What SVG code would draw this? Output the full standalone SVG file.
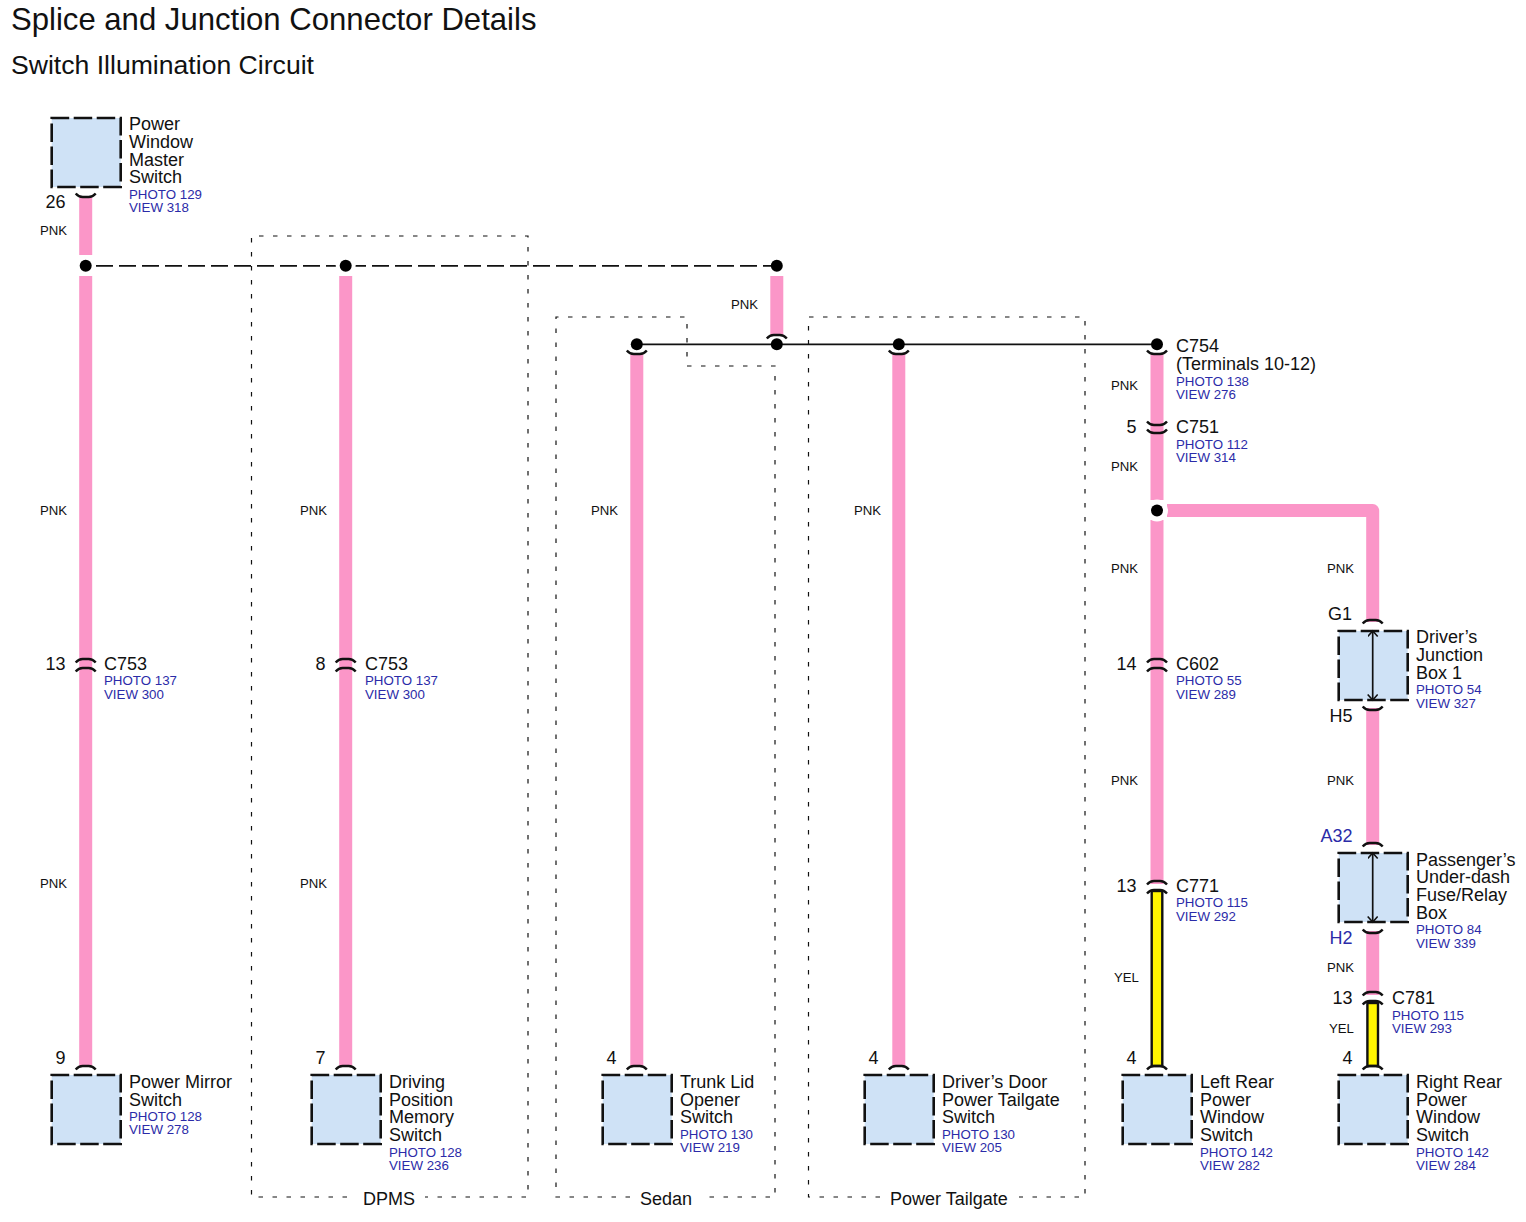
<svg xmlns="http://www.w3.org/2000/svg" width="1526" height="1222" viewBox="0 0 1526 1222">
<style>
text{font-family:"Liberation Sans",Arial,sans-serif;fill:#111}
.t1{font-size:31.1px}.t2{font-size:26.6px}
.n{font-size:18px}.p{font-size:13.3px;fill:#2b2ba8}.c{font-size:13.2px}.pin{font-size:18px;text-anchor:end}.bl{fill:#2b2ba8}
.box{fill:#cfe2f6;stroke:#111;stroke-width:2.6;stroke-dasharray:18.5 4.5;stroke-dashoffset:1}
.pk{stroke:#fb96c8;stroke-width:13;fill:none;stroke-linejoin:round}
.yl{fill:#fff500;stroke:#111;stroke-width:2.4}
.cap{fill:none;stroke:#111;stroke-width:2.4}
.fr{fill:none;stroke:#111;stroke-width:1.2;stroke-dasharray:4.5 9.5}
.dash{fill:none;stroke:#111;stroke-width:1.8;stroke-dasharray:17 6}
.ln{fill:none;stroke:#111;stroke-width:1.7}
.halo{fill:#fff}
</style>
<defs>
<path id="up" class="cap" d="M-10,3.500 Q-7,0 -3,0 H3 Q7,0 10,3.500"/>
<path id="dn" class="cap" d="M-10,-3.500 Q-7,0 -3,0 H3 Q7,0 10,-3.500"/>
<marker id="ah" markerWidth="12" markerHeight="12" refX="10" refY="5" orient="auto-start-reverse" markerUnits="userSpaceOnUse"><path d="M4.500,0 L10,5 L4.500,10" fill="none" stroke="#111" stroke-width="1.6"/></marker>
</defs>
<g id="titles">
<text class="t1" x="11" y="30">Splice and Junction Connector Details</text>
<text class="t2" x="11" y="74">Switch Illumination Circuit</text>
</g>
<g id="frames">
<path class="fr" d="M347,1197 H251.500 V236 H528 V1197 H425"/>
<path class="fr" d="M630,1197 H556 V317 H687 V366 H775 V1197 H702"/>
<path class="fr" d="M880,1197 H808.500 V317 H1085 V1197 H1019"/>
<text class="n" x="363" y="1205">DPMS</text>
<text class="n" x="640" y="1205">Sedan</text>
<text class="n" x="890" y="1205">Power Tailgate</text>
</g>
<g id="connectors">
<path class="pk" d="M85.700,197 V255 M85.700,276 V1066"/>
<path class="pk" d="M345.700,276 V1066"/>
<path class="pk" d="M776.800,276 V336"/>
<path class="pk" d="M636.800,354 V1066"/>
<path class="pk" d="M898.800,354 V1066"/>
<path class="pk" d="M1157,354 V500 M1157,520 V884"/>
<path class="pk" d="M1167,510.500 H1372.700 V622"/>
<path class="pk" d="M1372.700,708 V845 M1372.700,931 V995"/>
<rect class="yl" x="1151.700" y="891" width="10.600" height="175"/>
<rect class="yl" x="1367.400" y="1003" width="10.600" height="63"/>
<path class="dash" d="M96,265.800 H771"/>
<path class="ln" d="M636.800,344.300 H1157"/>
<use href="#dn" x="85.700" y="197"/>
<use href="#up" x="85.700" y="659"/><use href="#up" x="85.700" y="668"/>
<use href="#up" x="85.700" y="1066"/>
<use href="#up" x="345.700" y="659"/><use href="#up" x="345.700" y="668"/>
<use href="#up" x="345.700" y="1066"/>
<use href="#up" x="776.800" y="335"/>
<use href="#dn" x="636.800" y="354"/><use href="#up" x="636.800" y="1066"/>
<use href="#dn" x="898.800" y="354"/><use href="#up" x="898.800" y="1066"/>
<use href="#dn" x="1157" y="354"/>
<use href="#dn" x="1157" y="425"/><use href="#dn" x="1157" y="433"/>
<use href="#up" x="1157" y="659"/><use href="#up" x="1157" y="668"/>
<use href="#up" x="1157" y="881"/><use href="#up" x="1157" y="890"/>
<use href="#up" x="1157" y="1066"/>
<use href="#up" x="1372.700" y="620"/><use href="#dn" x="1372.700" y="710"/>
<use href="#up" x="1372.700" y="843"/><use href="#dn" x="1372.700" y="933"/>
<use href="#up" x="1372.700" y="992"/><use href="#up" x="1372.700" y="1001"/>
<use href="#up" x="1372.700" y="1066"/>
<circle class="halo" cx="85.700" cy="265.800" r="10"/><circle cx="85.700" cy="265.800" r="6"/>
<circle class="halo" cx="345.700" cy="265.800" r="10"/><circle cx="345.700" cy="265.800" r="6"/>
<circle cx="776.800" cy="265.800" r="6"/>
<circle cx="636.800" cy="344.300" r="6"/><circle cx="776.800" cy="344.300" r="6"/><circle cx="898.800" cy="344.300" r="6"/><circle cx="1157" cy="344.300" r="6"/>
<circle class="halo" cx="1157" cy="510.500" r="11"/><circle cx="1157" cy="510.500" r="6"/>
<g id="wire-colours">
<text class="c" x="40" y="235">PNK</text><text class="c" x="40" y="515">PNK</text><text class="c" x="40" y="888">PNK</text>
<text class="c" x="300" y="515">PNK</text><text class="c" x="300" y="888">PNK</text>
<text class="c" x="731" y="309">PNK</text>
<text class="c" x="591" y="515">PNK</text>
<text class="c" x="854" y="515">PNK</text>
<text class="c" x="1111" y="390">PNK</text><text class="c" x="1111" y="471">PNK</text><text class="c" x="1111" y="573">PNK</text><text class="c" x="1111" y="785">PNK</text>
<text class="c" x="1114" y="982">YEL</text>
<text class="c" x="1327" y="573">PNK</text><text class="c" x="1327" y="785">PNK</text><text class="c" x="1327" y="972">PNK</text>
<text class="c" x="1329" y="1033">YEL</text>
</g>
<g id="pins">
<text class="pin" x="65.500" y="208">26</text><text class="pin" x="65.500" y="670">13</text><text class="pin" x="65.500" y="1064">9</text>
<text class="pin" x="325.500" y="670">8</text><text class="pin" x="325.500" y="1064">7</text>
<text class="pin" x="616.500" y="1064">4</text><text class="pin" x="878.500" y="1064">4</text>
<text class="pin" x="1136.500" y="433">5</text><text class="pin" x="1136.500" y="670">14</text><text class="pin" x="1136.500" y="892">13</text><text class="pin" x="1136.500" y="1064">4</text>
<text class="pin" x="1352.500" y="1004">13</text><text class="pin" x="1352.500" y="1064">4</text>
<text class="pin" x="1352" y="620">G1</text><text class="pin" x="1352.500" y="722">H5</text>
<text class="pin" x="1352.500" y="842" style="fill:#2b2ba8">A32</text><text class="pin" x="1352.500" y="944" style="fill:#2b2ba8">H2</text>
</g>
<g id="inline-connector-labels">
<text class="n" x="104" y="670">C753</text><text class="p" x="104" y="685">PHOTO 137</text><text class="p" x="104" y="699">VIEW 300</text>
<text class="n" x="365" y="670">C753</text><text class="p" x="365" y="685">PHOTO 137</text><text class="p" x="365" y="699">VIEW 300</text>
<text class="n" x="1176" y="352">C754</text><text class="n" x="1176" y="370">(Terminals 10-12)</text><text class="p" x="1176" y="386">PHOTO 138</text><text class="p" x="1176" y="399">VIEW 276</text>
<text class="n" x="1176" y="433">C751</text><text class="p" x="1176" y="449">PHOTO 112</text><text class="p" x="1176" y="462">VIEW 314</text>
<text class="n" x="1176" y="670">C602</text><text class="p" x="1176" y="685">PHOTO 55</text><text class="p" x="1176" y="699">VIEW 289</text>
<text class="n" x="1176" y="892">C771</text><text class="p" x="1176" y="907">PHOTO 115</text><text class="p" x="1176" y="921">VIEW 292</text>
<text class="n" x="1392" y="1004">C781</text><text class="p" x="1392" y="1020">PHOTO 115</text><text class="p" x="1392" y="1033">VIEW 293</text>
</g>
</g>
<g id="power-window-master-switch"><rect class="box" x="51.700" y="118" width="69" height="69"/>
<text class="n" x="129" y="130">Power</text><text class="n" x="129" y="148">Window</text><text class="n" x="129" y="166">Master</text><text class="n" x="129" y="183">Switch</text><text class="p" x="129" y="199">PHOTO 129</text><text class="p" x="129" y="212">VIEW 318</text></g>
<g id="power-mirror-switch"><rect class="box" x="51.700" y="1075" width="69" height="69"/>
<text class="n" x="129" y="1088">Power Mirror</text><text class="n" x="129" y="1106">Switch</text><text class="p" x="129" y="1121">PHOTO 128</text><text class="p" x="129" y="1134">VIEW 278</text></g>
<g id="driving-position-memory-switch"><rect class="box" x="311.700" y="1075" width="69" height="69"/>
<text class="n" x="389" y="1088">Driving</text><text class="n" x="389" y="1106">Position</text><text class="n" x="389" y="1123">Memory</text><text class="n" x="389" y="1141">Switch</text><text class="p" x="389" y="1157">PHOTO 128</text><text class="p" x="389" y="1170">VIEW 236</text></g>
<g id="trunk-lid-opener-switch"><rect class="box" x="602.700" y="1075" width="69" height="69"/>
<text class="n" x="680" y="1088">Trunk Lid</text><text class="n" x="680" y="1106">Opener</text><text class="n" x="680" y="1123">Switch</text><text class="p" x="680" y="1139">PHOTO 130</text><text class="p" x="680" y="1152">VIEW 219</text></g>
<g id="drivers-door-power-tailgate-switch"><rect class="box" x="864.700" y="1075" width="69" height="69"/>
<text class="n" x="942" y="1088">Driver’s Door</text><text class="n" x="942" y="1106">Power Tailgate</text><text class="n" x="942" y="1123">Switch</text><text class="p" x="942" y="1139">PHOTO 130</text><text class="p" x="942" y="1152">VIEW 205</text></g>
<g id="left-rear-power-window-switch"><rect class="box" x="1122.700" y="1075" width="69" height="69"/>
<text class="n" x="1200" y="1088">Left Rear</text><text class="n" x="1200" y="1106">Power</text><text class="n" x="1200" y="1123">Window</text><text class="n" x="1200" y="1141">Switch</text><text class="p" x="1200" y="1157">PHOTO 142</text><text class="p" x="1200" y="1170">VIEW 282</text></g>
<g id="right-rear-power-window-switch"><rect class="box" x="1338.700" y="1075" width="69" height="69"/>
<text class="n" x="1416" y="1088">Right Rear</text><text class="n" x="1416" y="1106">Power</text><text class="n" x="1416" y="1123">Window</text><text class="n" x="1416" y="1141">Switch</text><text class="p" x="1416" y="1157">PHOTO 142</text><text class="p" x="1416" y="1170">VIEW 284</text></g>
<g id="drivers-junction-box-1"><rect class="box" x="1338.700" y="631" width="69" height="69"/>
<path class="ln" d="M1372.700,631 V700" marker-start="url(#ah)" marker-end="url(#ah)"/>
<text class="n" x="1416" y="643">Driver’s</text><text class="n" x="1416" y="661">Junction</text><text class="n" x="1416" y="679">Box 1</text><text class="p" x="1416" y="694">PHOTO 54</text><text class="p" x="1416" y="708">VIEW 327</text></g>
<g id="passengers-under-dash-fuse-relay-box"><rect class="box" x="1338.700" y="853" width="69" height="69"/>
<path class="ln" d="M1372.700,853 V922" marker-start="url(#ah)" marker-end="url(#ah)"/>
<text class="n" x="1416" y="866">Passenger’s</text><text class="n" x="1416" y="883">Under-dash</text><text class="n" x="1416" y="901">Fuse/Relay</text><text class="n" x="1416" y="919">Box</text><text class="p" x="1416" y="934">PHOTO 84</text><text class="p" x="1416" y="948">VIEW 339</text></g>
</svg>
